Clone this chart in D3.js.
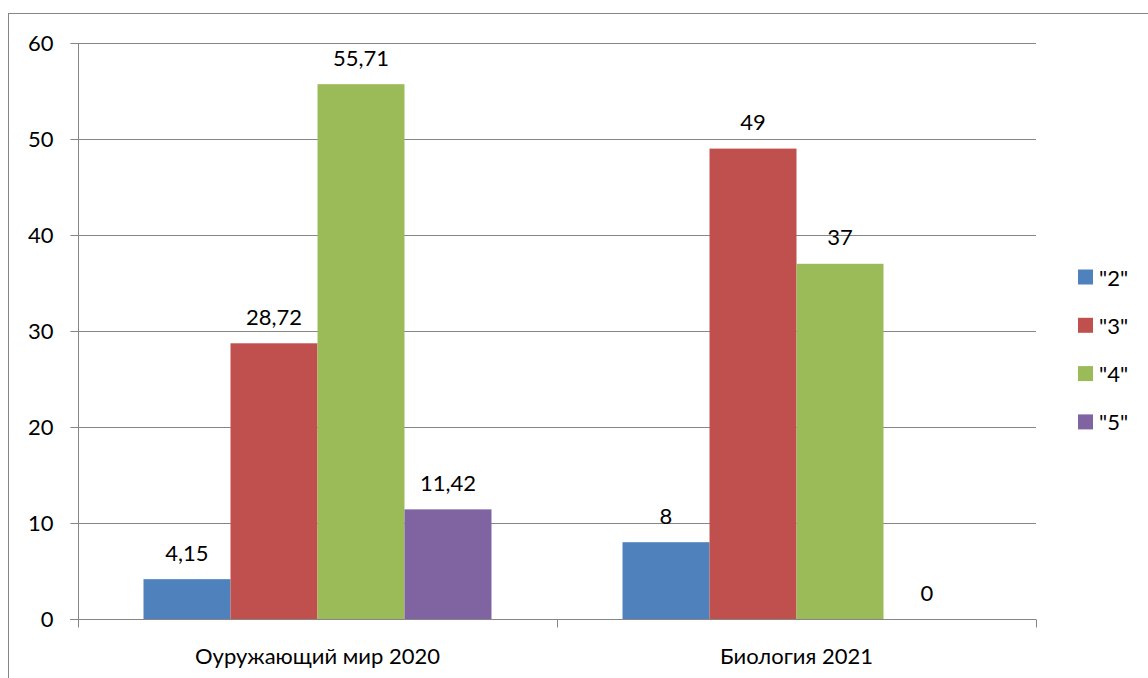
<!DOCTYPE html>
<html><head><meta charset="utf-8">
<script src="https://cdn.jsdelivr.net/npm/d3@7"></script>
<style>body{margin:0;background:#fff}svg{display:block}text{font-family:Lato,"Open Sans",sans-serif;fill:#000}</style>
</head><body><svg id="c" width="1148" height="678"></svg>
<script>
const categories = ["Оуружающий мир 2020", "Биология 2021"];
const seriesNames = ['"2"', '"3"', '"4"', '"5"'];
const seriesColors = ["#4F81BD", "#C0504D", "#9BBB59", "#8064A2"];
const values2 = [4.15, 8];
const values3 = [28.72, 49];
const values4 = [55.71, 37];
const values5 = [11.42, 0];
const yTicks = [0, 10, 20, 30, 40, 50, 60];

const seriesValues = [values2, values3, values4, values5];
const svg = d3.select("#c");
const L = 78, R = 1036, T = 43, B = 619;
const FS = 22;
const fmt = v => String(v).replace(".", ",");

svg.append("rect").attr("x", 8.5).attr("y", 13.5).attr("width", 1160).attr("height", 700)
  .attr("fill", "none").attr("stroke", "#868686").attr("stroke-width", 1);

const x = d3.scaleBand().domain(categories).range([L, R]);
const xs = d3.scaleBand().domain(seriesNames).range([0, x.bandwidth()]).paddingOuter(0.753);
const y = d3.scaleLinear().domain([0, 60]).range([B, T]);

// gridlines
svg.append("g").selectAll("line").data(yTicks.filter(t => t > 0)).join("line")
  .attr("x1", L).attr("x2", R).attr("y1", d => Math.round(y(d)) + 0.5).attr("y2", d => Math.round(y(d)) + 0.5)
  .attr("stroke", "#868686").attr("stroke-width", 1);

// bars
categories.forEach((c, ci) => {
  seriesNames.forEach((s, si) => {
    const v = seriesValues[si][ci];
    const bx = x(c) + xs(s);
    svg.append("rect").attr("x", bx).attr("y", y(v)).attr("width", xs.bandwidth()).attr("height", B - y(v))
      .attr("fill", seriesColors[si]);
    svg.append("text").attr("x", bx + xs.bandwidth() / 2).attr("y", y(v) - 27)
      .attr("text-anchor", "middle").attr("dominant-baseline", "central").attr("font-size", FS)
      .text(fmt(v));
  });
});

// y axis
const yAxis = svg.append("g").attr("transform", `translate(${L + 0.5},0)`)
  .call(d3.axisLeft(y).tickValues(yTicks).tickSize(8).tickPadding(17).tickFormat(d => d));
yAxis.select(".domain").attr("stroke", "#868686").attr("d", `M0,${T}V${B}`);
yAxis.selectAll(".tick line").attr("stroke", "#868686");
yAxis.selectAll("text").attr("font-size", FS).attr("font-family", 'Lato,"Open Sans",sans-serif');

// x axis
const xg = svg.append("g").attr("transform", `translate(0,${B + 0.5})`);
xg.append("line").attr("x1", L - 8).attr("x2", R).attr("y1", 0).attr("y2", 0).attr("stroke", "#868686");
const edges = [L, L + x.bandwidth(), R];
xg.selectAll("line.t").data(edges).join("line").attr("class", "t")
  .attr("x1", d => Math.round(d) + 0.5).attr("x2", d => Math.round(d) + 0.5).attr("y1", 0).attr("y2", 8)
  .attr("stroke", "#868686");
xg.selectAll("text").data(categories).join("text")
  .attr("x", d => x(d) + x.bandwidth() / 2).attr("y", 36).attr("text-anchor", "middle")
  .attr("dominant-baseline", "central").attr("font-size", FS).text(d => d);

// legend
const lg = svg.append("g");
seriesNames.forEach((s, i) => {
  const cy = 277 + i * 48.3;
  lg.append("rect").attr("x", 1078).attr("y", cy - 7.5).attr("width", 15).attr("height", 15).attr("fill", seriesColors[i]);
  lg.append("text").attr("x", 1099).attr("y", cy).attr("dominant-baseline", "central").attr("font-size", FS).text(s);
});
</script></body></html>
